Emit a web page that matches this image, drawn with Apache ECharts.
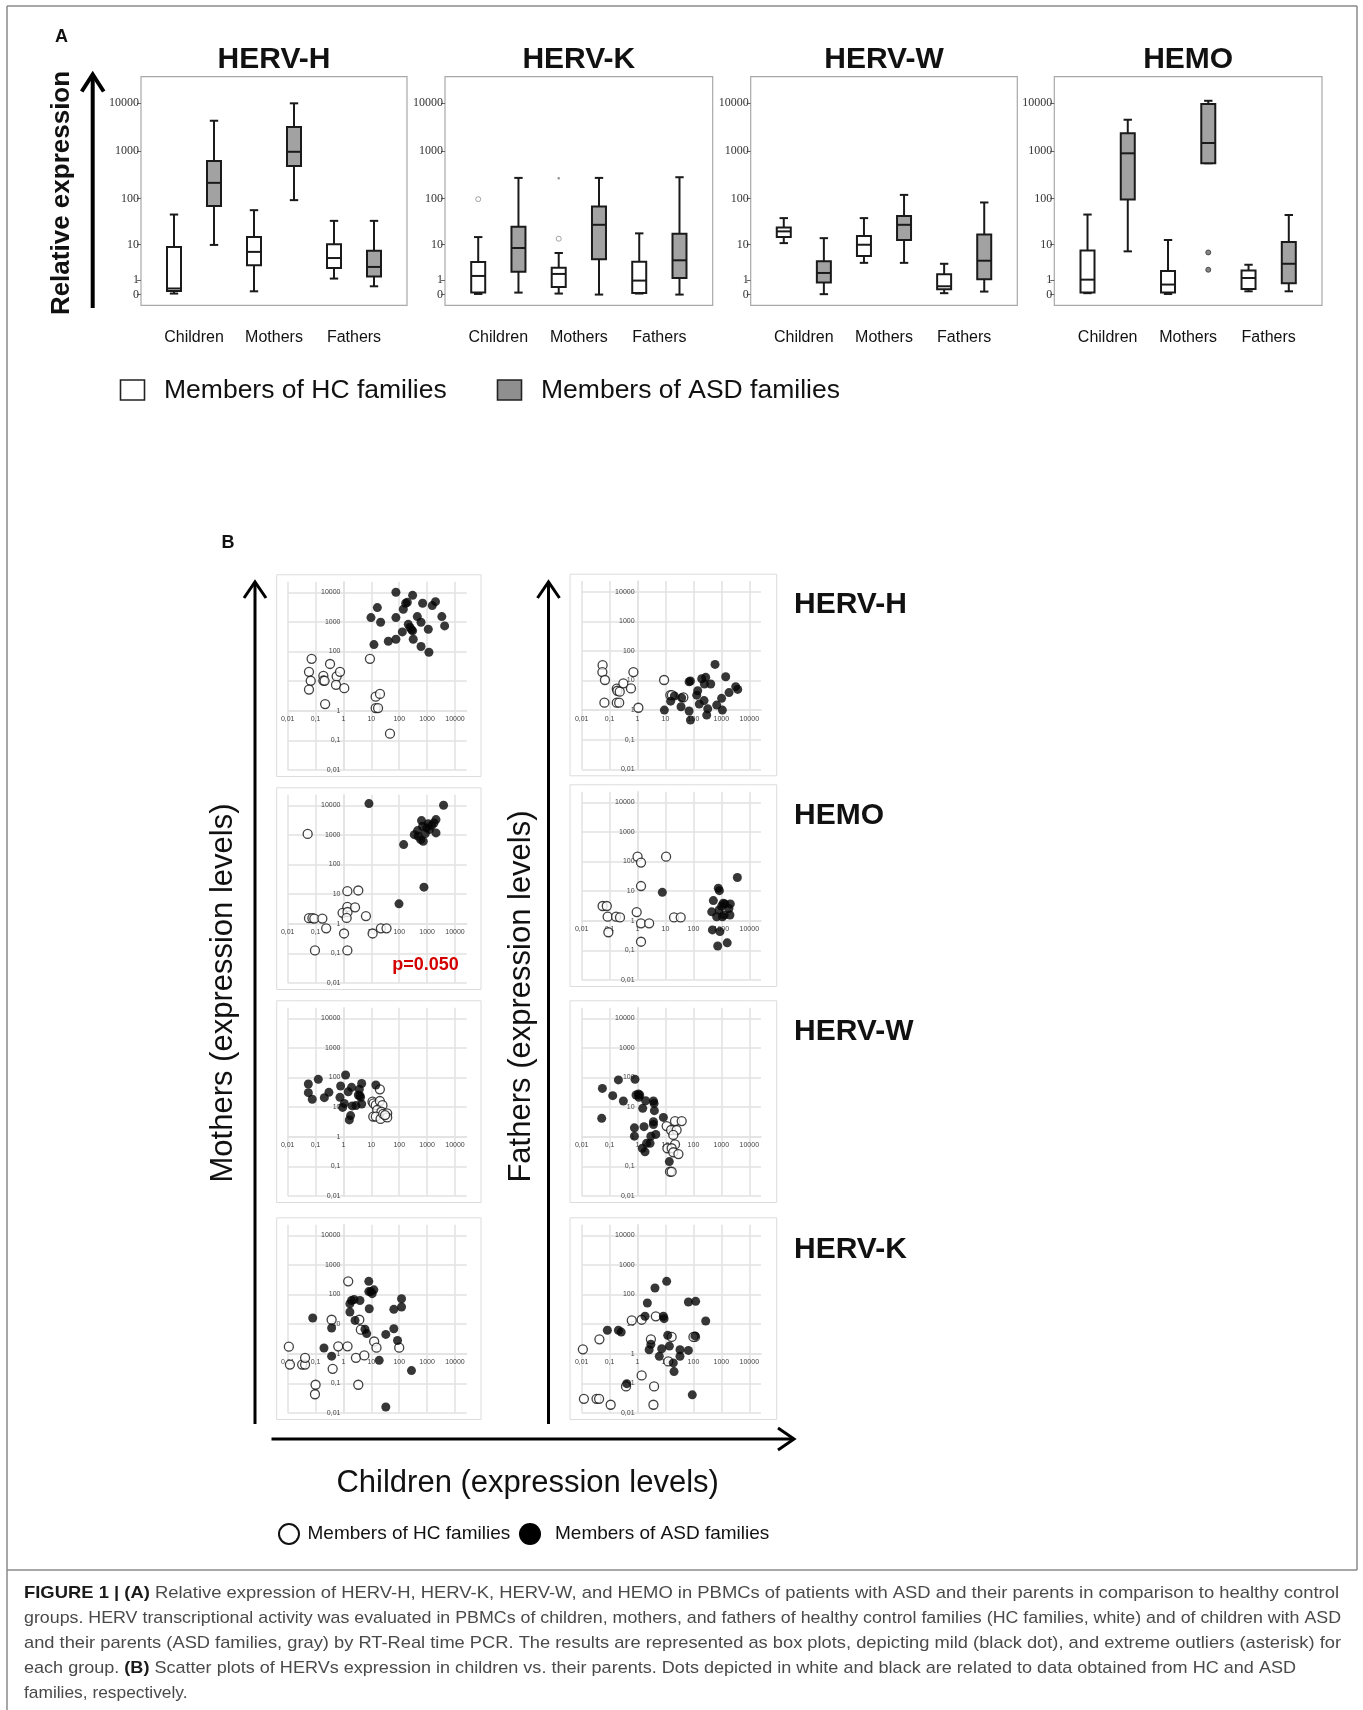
<!DOCTYPE html>
<html><head><meta charset="utf-8">
<script src="https://cdn.jsdelivr.net/npm/echarts@6/dist/echarts.min.js"></script>
<style>html,body{margin:0;padding:0;background:#fff}#c{width:1363px;height:1710px}</style>
</head><body><div id="c"></div>
<script>
// ================= Panel A data =================
const genes = ['HERV-H', 'HERV-K', 'HERV-W', 'HEMO'];
const groups = ['Children', 'Mothers', 'Fathers'];
const boxTicks = [0, 1, 10, 100, 1000, 10000];
// [min, Q1, median, Q3, max] for Children, Mothers, Fathers
const hervH_HC  = [[0.05, 0.19, 0.34, 8.9, 46], [0.17, 3.1, 6.8, 15, 57], [1.16, 2.6, 4.8, 10.3, 33.7]];
const hervH_ASD = [[9.9, 70, 215, 614, 4285], [93, 482, 961, 3160, 9900], [0.49, 1.38, 2.78, 7.2, 33.7]];
const hervK_HC  = [[0.03, 0.1, 1.45, 3.8, 14.9], [0.05, 0.44, 1.7, 2.65, 6.4], [0.05, 0.08, 0.96, 3.87, 18]];
const hervK_ASD = [[0.1, 2.0, 8.4, 25, 273], [0, 4.5, 27.7, 68, 273], [0, 1.22, 4.2, 17.7, 282]];
const hervW_HC  = [[10.9, 14.9, 19.9, 24.3, 38.6], [3.6, 5.4, 10, 15.7, 38.6], [0.07, 0.29, 0.49, 1.65, 3.4]];
const hervW_ASD = [[0.02, 0.78, 1.83, 3.95, 14.1], [3.6, 12.8, 27.7, 43, 120], [0.155, 1.09, 4.1, 17, 83]];
const hemo_HC   = [[0.07, 0.1, 1.05, 7.3, 46], [0.03, 0.1, 0.62, 2.1, 12.8], [0.17, 0.31, 1.22, 2.2, 3.2]];
const hemo_ASD  = [[7.0, 96, 893, 2333, 4495], [553, 553, 1467, 9530, 11190], [0.17, 0.72, 3.4, 11.5, 45]];
// outliers [group, value]
const hervK_HC_mild = [['Children', 97.5], ['Mothers', 13.7]];
const hervK_HC_extreme = [['Mothers', 268]];
const hemo_ASD_mild = [['Mothers', 6.6], ['Mothers', 2.3]];

// ================= Panel B data  [children, parent] =================
const logTicks = [-2, -1, 0, 1, 2, 3, 4];
const logTickLabels = ['0,01', '0,1', '1', '10', '100', '1000', '10000'];
const rowNames = ['HERV-H', 'HEMO', 'HERV-W', 'HERV-K'];
const hH_mo_HC = [[0.072,56.6],[0.058,20.6],[0.067,10.3],[0.058,5.2],[0.19,15],[0.19,10.5],[0.21,10.3],[0.33,38],[0.57,14.4],[0.75,20.6],[0.54,7.5],[1.07,5.8],[0.22,1.68],[8.9,56.6],[14.3,3.0],[20.4,3.7],[14.3,1.23],[17.4,1.23],[46.6,0.168]];
const hH_mo_ASD = [[76,10000],[302,7900],[16.4,3040],[9.7,1400],[21.5,975],[12.4,172],[40.6,223],[76,1400],[76,260],[140,2670],[170,4250],[195,4600],[129,460],[211,830],[243,645],[278,540],[302,500],[318,260],[445,1510],[605,975],[690,4250],[605,148],[1100,566],[1160,95],[1530,3550],[2000,4840],[3370,1510],[4250,733]];
const hH_fa_HC = [[0.056,33],[0.055,19.3],[0.068,10.4],[0.065,1.78],[0.18,5.3],[0.19,4.5],[0.23,4.2],[0.18,1.78],[0.22,1.78],[0.31,8.0],[0.58,5.4],[0.71,19.3],[1.07,1.2],[8.9,10.4],[14.9,3.2],[17,3.2],[43.6,2.7]];
const hH_fa_ASD = [[593,35],[9.1,1.0],[15.3,2.0],[20.8,3.0],[38,2.6],[36,1.3],[70,9.1],[78,9.6],[70,0.93],[78,0.46],[131,3.2],[142,4.5],[162,1.6],[198,11.5],[240,2.1],[246,7.6],[275,12.8],[299,0.68],[325,1.1],[415,7.6],[680,1.48],[1020,2.5],[1085,1.0],[1430,13.4],[1880,3.9],[3260,6.2],[3850,5.0]];
const hemo_mo_HC = [[0.052,1080],[0.058,1.55],[0.077,1.55],[0.09,1.5],[0.175,1.5],[0.24,0.70],[0.095,0.126],[0.93,2.35],[1.05,0.47],[1.38,12.6],[1.38,3.7],[1.4,2.5],[1.3,1.58],[1.38,0.126],[2.6,3.6],[3.4,13.3],[6.4,1.82],[11.1,0.47],[22,0.70],[35,0.70]];
const hemo_mo_ASD = [[8.2,11400],[98,4.7],[144,472],[770,17.2],[3890,10000],[347,1020],[455,1400],[480,900],[590,690],[725,610],[630,3040],[690,1960],[860,1110],[955,1720],[1100,2400],[1200,1510],[1450,2070],[1760,2520],[2080,3290],[2080,1170]];
const hemo_fa_HC = [[0.056,3.15],[0.079,3.15],[0.085,1.37],[0.09,0.41],[0.17,1.37],[0.235,1.3],[0.93,1.97],[1.0,146],[1.33,92],[1.33,14.9],[1.33,0.82],[2.6,0.82],[1.33,0.196],[10.5,146],[20.2,1.3],[35,1.3]];
const hemo_fa_ASD = [[7.7,9.1],[3740,29],[517,4.8],[451,2.0],[477,0.49],[777,12.5],[850,10.4],[677,1.37],[825,2.3],[890,0.43],[740,0.14],[1030,3.15],[1170,3.9],[1260,1.56],[1620,0.18],[1860,2.6],[2030,1.56],[2090,3.7],[1340,3.7],[1090,1.37]];
const hW_mo_HC = [[20.2,40],[11,15.3],[12,13.4],[14.4,11.7],[20.2,16.1],[25,11.7],[16.2,8],[23,7],[11.7,4.8],[14.5,4.8],[21.4,4.0],[26.6,5.9],[37,6.2],[37,4.5],[31,5.4]];
const hW_mo_ASD = [[0.055,60.6],[0.055,30.8],[0.076,18.4],[0.125,87],[0.206,20.9],[0.30,31.6],[0.79,51.8],[0.75,21.4],[0.93,9.8],[1.07,13.4],[1.19,122],[1.48,33],[1.95,46.6],[2.06,11],[1.8,5.2],[1.62,3.7],[2.8,11.3],[3.4,25.7],[3.7,40],[3.9,24.4],[4.5,63],[4.5,12.8],[4.1,21.4],[14.5,56]];
const hW_fa_HC = [[11,2.3],[15.8,1.69],[25,1.69],[21.9,3.4],[38,3.4],[19,1.15],[21.9,0.55],[11.7,0.41],[16.6,0.41],[19,0.30],[29,0.26],[14.5,0.066],[16.6,0.066]];
const hW_fa_ASD = [[0.055,43],[0.052,4.2],[0.129,24.4],[0.206,83],[0.31,16.1],[0.81,87],[0.88,25.7],[1.07,27.8],[1.12,21.4],[1.2,25.7],[1.53,9.1],[1.95,16.5],[3.7,16.1],[3.9,13.4],[4.0,7.6],[3.7,3.2],[3.7,2.6],[1.7,2.2],[0.77,2.0],[0.77,1.05],[1.48,0.41],[1.85,0.31],[2.1,0.6],[2.8,0.6],[3.0,1.05],[4.5,1.2],[8.4,4.5],[13.7,0.145]];
const hK_mo_HC = [[0.011,1.73],[0.012,0.43],[0.033,0.43],[0.042,0.43],[0.042,0.73],[0.10,0.09],[0.095,0.043],[0.376,14.1],[0.41,0.31],[0.65,1.78],[1.4,1.78],[1.48,279],[2.8,0.73],[3.7,14.1],[4.2,6.5],[3.4,0.09],[5.6,0.88],[12.6,2.6],[15.3,1.6],[100,1.6]];
const hK_mo_ASD = [[0.079,16.1],[0.2,1.56],[0.376,7.4],[0.376,0.83],[1.7,25.7],[1.7,49],[1.95,63],[2.4,68],[2.6,13.4],[3.9,63],[8.1,279],[8.1,126],[9.6,126],[12.3,144],[10.7,107],[8.4,33],[5.9,6.7],[6.8,4.8],[19.1,0.60],[33,4.5],[64,31.6],[64,7.0],[87,2.8],[121,72],[121,38],[275,0.27],[33,0.016]];
const hK_fa_HC = [[0.011,1.41],[0.012,0.03],[0.034,0.03],[0.042,0.03],[0.043,3.07],[0.109,0.019],[0.386,0.079],[0.62,13.4],[1.4,14.1],[1.4,0.186],[3.0,3.07],[3.7,0.019],[3.9,0.079],[4.5,18.4],[12.6,0.55],[16.6,3.7],[114,3.7],[100,3.7]];
const hK_fa_ASD = [[0.083,6.2],[0.206,6.2],[0.26,5.4],[0.41,0.098],[1.85,18.4],[2.24,51.8],[3.0,2.1],[2.6,1.37],[4.2,166],[6.0,0.82],[7.3,1.48],[8.4,18.4],[8.9,15.3],[11,279],[12,4.2],[13.8,1.82],[19,0.49],[20.2,0.25],[33,1.37],[33,0.82],[66,1.3],[66,56],[120,59],[114,4.0],[275,12.8],[91,0.041]];

// ================= Build =================
const SANS = '"Liberation Sans", Arial, sans-serif';
const SERIF = '"Liberation Serif", "Times New Roman", serif';
const lg = v => Math.log10(v);
const lg1 = v => Math.log10(v + 1);
const grids = [], xAxes = [], yAxes = [], series = [], gfx = [];

function T(x, y, text, font, o) {
  o = o || {};
  return {type: 'text', x: x, y: y, rotation: o.rot || 0, scaleX: o.sx || 1, z: 20,
    style: {x: 0, y: 0, text: text, font: font, fill: o.fill || '#111',
      align: o.align || 'center', textAlign: o.align || 'center',
      verticalAlign: 'middle', textVerticalAlign: 'middle'}};
}
function L(x1, y1, x2, y2, w, c) {
  return {type: 'line', z: 20, shape: {x1, y1, x2, y2}, style: {stroke: c || '#000', lineWidth: w}};
}
function P(points, w, c) {
  return {type: 'polyline', z: 20, shape: {points}, style: {stroke: c || '#000', lineWidth: w, fill: null, lineJoin: 'miter'}};
}

function renderBox(params, api) {
  const x = api.value(0);
  const pMin = api.coord([x, api.value(1)]);
  const pQ1 = api.coord([x, api.value(2)]);
  const pMed = api.coord([x, api.value(3)]);
  const pQ3 = api.coord([x, api.value(4)]);
  const pMax = api.coord([x, api.value(5)]);
  const cx = pMin[0], hw = 7, cw = 4.2;
  const st = {stroke: '#1a1a1a', lineWidth: 2};
  return {type: 'group', children: [
    {type: 'line', shape: {x1: cx, y1: pMin[1], x2: cx, y2: pQ1[1]}, style: st},
    {type: 'line', shape: {x1: cx, y1: pQ3[1], x2: cx, y2: pMax[1]}, style: st},
    {type: 'line', shape: {x1: cx - cw, y1: pMin[1], x2: cx + cw, y2: pMin[1]}, style: st},
    {type: 'line', shape: {x1: cx - cw, y1: pMax[1], x2: cx + cw, y2: pMax[1]}, style: st},
    {type: 'rect', shape: {x: cx - hw, y: pQ3[1], width: 2 * hw, height: Math.max(pQ1[1] - pQ3[1], 0.5)},
      style: {fill: api.value(6) ? '#a2a2a2' : '#ffffff', stroke: '#1a1a1a', lineWidth: 2}},
    {type: 'line', shape: {x1: cx - hw, y1: pMed[1], x2: cx + hw, y2: pMed[1]}, style: st}
  ]};
}

// ---------- Panel A ----------
const panelLeft = [141, 445, 750.7, 1054.3];
const panelWidth = [266, 267.7, 266.6, 267.7];
const boxSets = [[hervH_HC, hervH_ASD], [hervK_HC, hervK_ASD], [hervW_HC, hervW_ASD], [hemo_HC, hemo_ASD]];
const boxTickPos = boxTicks.map(lg1);
const posHC = g => 1 + 2 * groups.indexOf(g);
const posASD = g => 2 + 2 * groups.indexOf(g);
genes.forEach((g, i) => {
  grids.push({left: panelLeft[i], top: 76.7, width: panelWidth[i], height: 228.6, show: true,
    borderColor: '#a8a8a8', borderWidth: 1.2, backgroundColor: 'transparent'});
  xAxes.push({type: 'value', gridIndex: i, min: 0.175, max: 6.825,
    axisLine: {show: false}, axisTick: {show: false}, splitLine: {show: false},
    axisLabel: {customValues: [1.5, 3.5, 5.5], formatter: v => groups[Math.round((v - 1.5) / 2)],
      fontFamily: SANS, fontSize: 16, color: '#111', margin: 24}});
  yAxes.push({type: 'value', gridIndex: i, min: -0.224, max: 4.552,
    axisLine: {show: false}, splitLine: {show: false},
    axisTick: {show: true, customValues: boxTickPos, length: 4, lineStyle: {color: '#666', width: 1}},
    axisLabel: {customValues: boxTickPos, formatter: v => String(Math.round(Math.pow(10, v) - 1)),
      fontFamily: SERIF, fontSize: 12, color: '#333', margin: 2}});
  const data = [];
  groups.forEach((grp, gi) => {
    data.push([posHC(grp)].concat(boxSets[i][0][gi].map(lg1), [0]));
    data.push([posASD(grp)].concat(boxSets[i][1][gi].map(lg1), [1]));
  });
  series.push({type: 'custom', xAxisIndex: i, yAxisIndex: i, renderItem: renderBox, data: data,
    encode: {x: 0, y: [1, 2, 3, 4, 5]}, z: 3, silent: true});
  gfx.push(T(panelLeft[i] + panelWidth[i] / 2, 60, g, 'bold 30px ' + SANS));
});
series.push({type: 'scatter', xAxisIndex: 1, yAxisIndex: 1, z: 4, symbolSize: 5,
  itemStyle: {color: '#fff', borderColor: '#8c8c8c', borderWidth: 1},
  data: hervK_HC_mild.map(d => [posHC(d[0]), lg1(d[1])])});
series.push({type: 'scatter', xAxisIndex: 1, yAxisIndex: 1, z: 4, symbolSize: 2.5,
  itemStyle: {color: '#777'}, data: hervK_HC_extreme.map(d => [posHC(d[0]), lg1(d[1])])});
series.push({type: 'scatter', xAxisIndex: 3, yAxisIndex: 3, z: 4, symbolSize: 5,
  itemStyle: {color: '#666', borderColor: '#333', borderWidth: 1},
  data: hemo_ASD_mild.map(d => [posASD(d[0]), lg1(d[1])])});

// Panel A decorations
gfx.push(T(61.5, 37, 'A', 'bold 18px ' + SANS));
gfx.push(T(62, 193, 'Relative expression', 'bold 26px ' + SANS, {rot: Math.PI / 2}));
gfx.push(L(92.7, 308, 92.7, 76, 4));
gfx.push(P([[81.7, 91.5], [92.7, 74.5], [103.7, 91.5]], 4));
gfx.push({type: 'rect', z: 20, shape: {x: 120.5, y: 380, width: 24, height: 20}, style: {fill: '#fff', stroke: '#222', lineWidth: 1.6}});
gfx.push(T(164, 390.5, 'Members of HC families', '26.5px ' + SANS, {align: 'left'}));
gfx.push({type: 'rect', z: 20, shape: {x: 497.5, y: 380, width: 24, height: 20}, style: {fill: '#8f8f8f', stroke: '#222', lineWidth: 1.6}});
gfx.push(T(541, 390.5, 'Members of ASD families', '26.5px ' + SANS, {align: 'left'}));

// ---------- Panel B ----------
const scatterSets = [
  [[hH_mo_HC, hH_mo_ASD], [hH_fa_HC, hH_fa_ASD]],
  [[hemo_mo_HC, hemo_mo_ASD], [hemo_fa_HC, hemo_fa_ASD]],
  [[hW_mo_HC, hW_mo_ASD], [hW_fa_HC, hW_fa_ASD]],
  [[hK_mo_HC, hK_mo_ASD], [hK_fa_HC, hK_fa_ASD]]
];
const rowsY = [[[592.3, 770], [591.7, 769.3]], [[805.3, 983], [802.3, 980]],
  [[1018.3, 1196], [1018.3, 1196]], [[1235.3, 1413], [1235.3, 1413]]];
const colX = [[287.7, 455, 276.7, 481], [581.7, 749.3, 570, 776.7]];
const tickFmt = v => logTickLabels[logTicks.indexOf(Math.round(v))];
const GRIDC = '#e2e2e2';
scatterSets.forEach((row, r) => {
  row.forEach((pair, c) => {
    const gi = grids.length;
    const y10k = rowsY[r][c][0], y001 = rowsY[r][c][1];
    const ppd = (y001 - y10k) / 6;
    const top = y10k - 0.36 * ppd;
    const x001 = colX[c][0], xppd = (colX[c][1] - colX[c][0]) / 6;
    grids.push({left: x001, top: top, width: 6.42 * xppd, height: y001 - top, show: false});
    gfx.push({type: 'rect', z: 0, shape: {x: colX[c][2], y: y10k - 17.5, width: colX[c][3] - colX[c][2], height: (y001 + 6.5) - (y10k - 17.5)},
      style: {fill: null, stroke: '#dcdcdc', lineWidth: 1}});
    // axes cross at value 1 (log 0): shift each axis inward by two decades
    xAxes.push({type: 'value', gridIndex: gi, min: -2, max: 4.42, position: 'bottom', offset: -2 * ppd,
      axisLine: {show: true, onZero: false, lineStyle: {color: GRIDC, width: 1.5}},
      axisTick: {show: false, customValues: logTicks},
      splitLine: {show: true, lineStyle: {color: GRIDC, width: 1.5}},
      axisLabel: {customValues: logTicks, formatter: tickFmt, fontFamily: SANS, fontSize: 7, color: '#444', margin: 5}});
    yAxes.push({type: 'value', gridIndex: gi, min: -2, max: 4.36, position: 'left', offset: -2 * xppd,
      axisLine: {show: true, onZero: false, lineStyle: {color: GRIDC, width: 1.5}},
      axisTick: {show: false, customValues: logTicks},
      splitLine: {show: true, lineStyle: {color: GRIDC, width: 1.5}},
      axisLabel: {customValues: logTicks, formatter: tickFmt, fontFamily: SANS, fontSize: 7, color: '#444', margin: 3}});
    series.push({type: 'scatter', xAxisIndex: gi, yAxisIndex: gi, z: 4, symbolSize: 9,
      itemStyle: {color: '#fff', borderColor: '#111', borderWidth: 1.3},
      data: pair[0].map(d => [lg(d[0]), lg(d[1])])});
    series.push({type: 'scatter', xAxisIndex: gi, yAxisIndex: gi, z: 5, symbolSize: 9,
      itemStyle: {color: '#050505'},
      data: pair[1].map(d => [lg(d[0]), lg(d[1])])});
  });
});
const rowLabelY = [605, 816, 1031.5, 1249.6];
rowNames.forEach((n, i) => gfx.push(T(794, rowLabelY[i], n, 'bold 30px ' + SANS, {align: 'left'})));
gfx.push(T(425.5, 965.5, 'p=0.050', 'bold 18px ' + SANS, {fill: '#d40000'}));
gfx.push(T(228, 543, 'B', 'bold 18px ' + SANS));
// arrows
gfx.push(L(255, 1424, 255, 583, 3));
gfx.push(P([[244, 598], [255, 582], [266, 598]], 3));
gfx.push(L(548.5, 1424, 548.5, 583, 3));
gfx.push(P([[537.5, 598], [548.5, 582], [559.5, 598]], 3));
gfx.push(L(271.5, 1439, 793, 1439, 3));
gfx.push(P([[778, 1428], [794, 1439], [778, 1450]], 3));
gfx.push(T(223.5, 993, 'Mothers (expression levels)', '31px ' + SANS, {rot: Math.PI / 2}));
gfx.push(T(521, 996.5, 'Fathers (expression levels)', '31px ' + SANS, {rot: Math.PI / 2}));
gfx.push(T(527.7, 1483, 'Children (expression levels)', '31px ' + SANS));
// bottom legend
gfx.push({type: 'circle', z: 20, shape: {cx: 289, cy: 1534, r: 10}, style: {fill: '#fff', stroke: '#111', lineWidth: 2}});
gfx.push(T(307.5, 1534, 'Members of HC families', '19px ' + SANS, {align: 'left'}));
gfx.push({type: 'circle', z: 20, shape: {cx: 530, cy: 1534, r: 11}, style: {fill: '#000'}});
gfx.push(T(555, 1534, 'Members of ASD families', '19px ' + SANS, {align: 'left'}));

// figure frame
gfx.push(L(7, 6, 1357, 6, 1.5, '#8a8a8a'));
gfx.push(L(7, 6, 7, 1710, 1.5, '#8a8a8a'));
gfx.push(L(1357, 6, 1357, 1570, 1.5, '#8a8a8a'));
gfx.push(L(7, 1570, 1357, 1570, 1.5, '#8a8a8a'));

// caption
const capLines = [
  {y: 1593, w: 1315, segs: [['FIGURE 1 | (A)', 1], [' Relative expression of HERV-H, HERV-K, HERV-W, and HEMO in PBMCs of patients with ASD and their parents in comparison to healthy control', 0]]},
  {y: 1618, w: 1317, segs: [['groups. HERV transcriptional activity was evaluated in PBMCs of children, mothers, and fathers of healthy control families (HC families, white) and of children with ASD', 0]]},
  {y: 1643, w: 1317, segs: [['and their parents (ASD families, gray) by RT-Real time PCR. The results are represented as box plots, depicting mild (black dot), and extreme outliers (asterisk) for', 0]]},
  {y: 1668, w: 1272, segs: [['each group. ', 0], ['(B)', 1], [' Scatter plots of HERVs expression in children vs. their parents. Dots depicted in white and black are related to data obtained from HC and ASD', 0]]},
  {y: 1693, w: 163.5, segs: [['families, respectively.', 0]]}
];
const mctx = document.createElement('canvas').getContext('2d');
const capFont = b => (b ? 'bold ' : '') + '17px "Liberation Sans"';
capLines.forEach(ln => {
  const ws = ln.segs.map(s => { mctx.font = capFont(s[1]); return mctx.measureText(s[0]).width; });
  const tot = ws.reduce((a, b) => a + b, 0);
  const sc = ln.w / tot;
  let cx = 24;
  ln.segs.forEach((s, k) => {
    gfx.push(T(cx, ln.y, s[0], capFont(s[1]), {align: 'left', sx: sc, fill: s[1] ? '#1a1a1a' : '#4a4a4a'}));
    cx += ws[k] * sc;
  });
});

const chart = echarts.init(document.getElementById('c'), null, {renderer: 'canvas', width: 1363, height: 1710});
chart.setOption({
  backgroundColor: '#fff',
  animation: false,
  grid: grids, xAxis: xAxes, yAxis: yAxes, series: series,
  graphic: {elements: gfx}
});
</script></body></html>
